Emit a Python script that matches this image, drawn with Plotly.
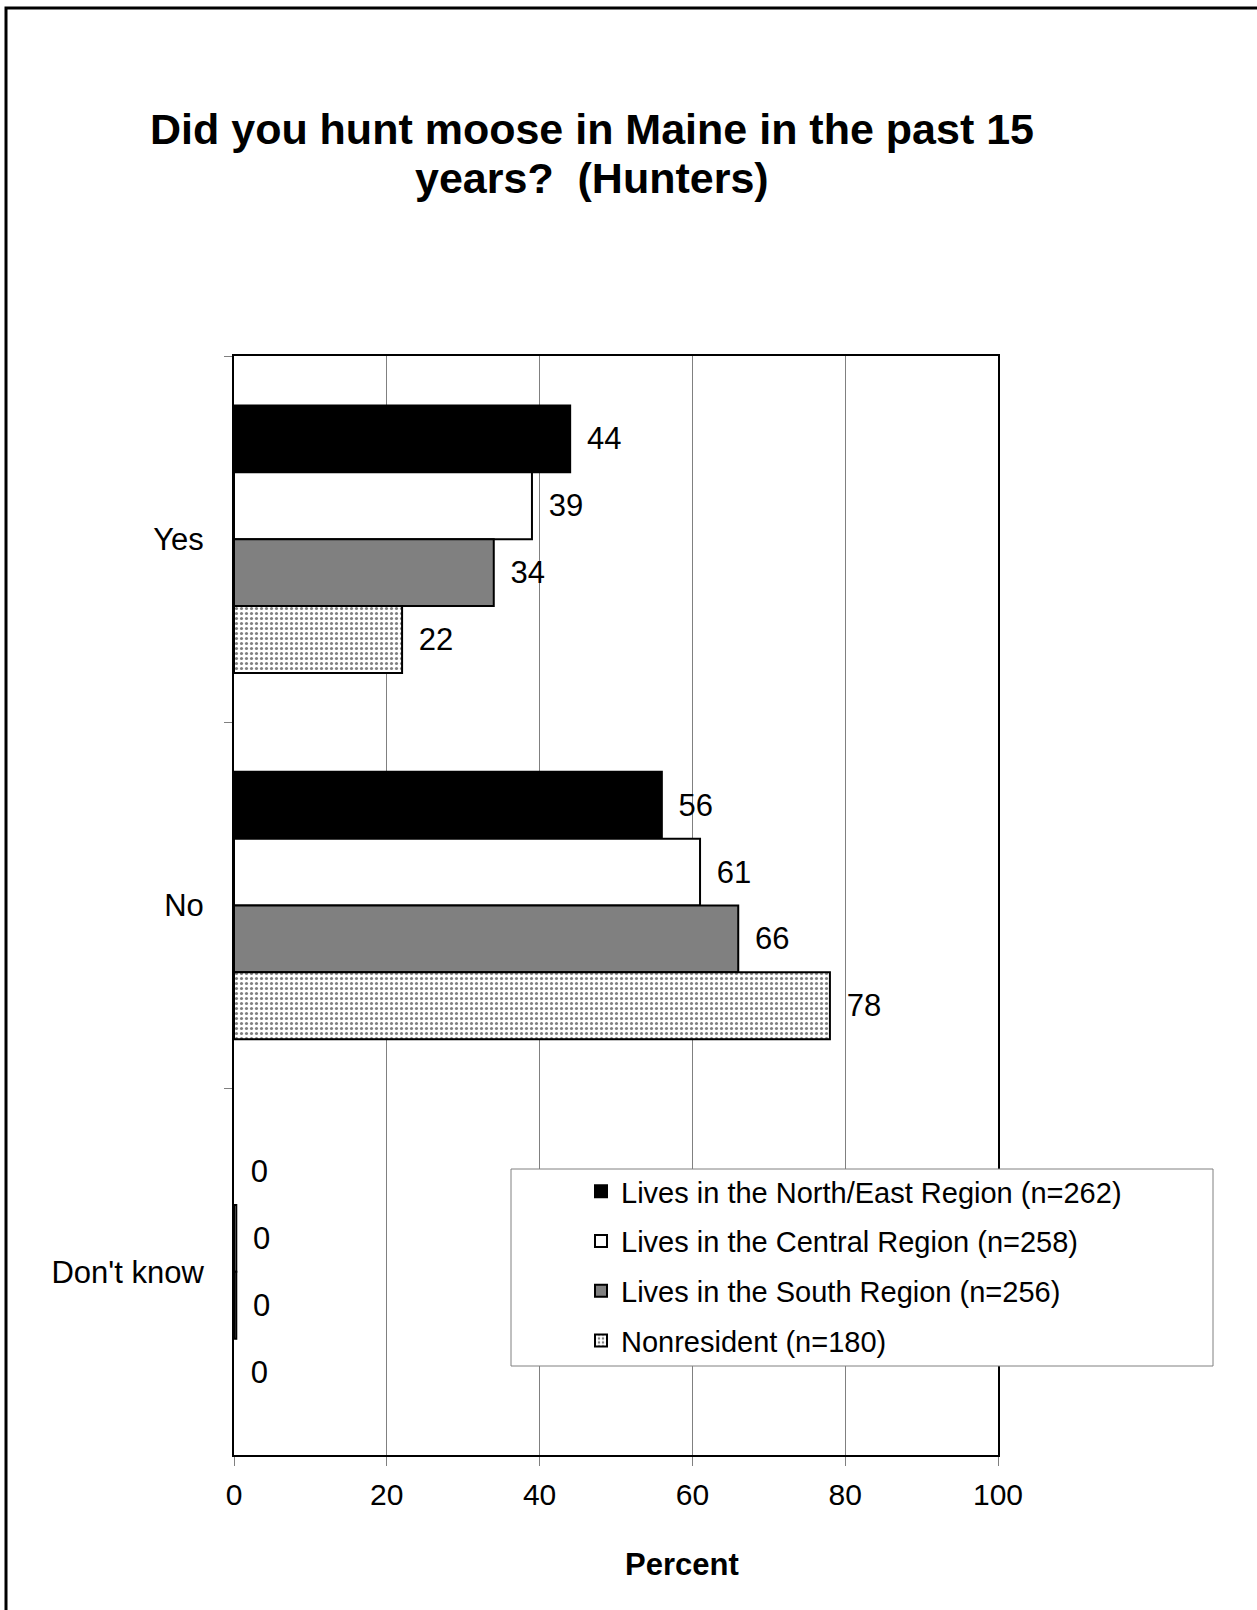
import plotly.graph_objects as go

categories = ["Yes", "No", "Don't know"]
series_names = [
    "Lives in the North/East Region (n=262)",
    "Lives in the Central Region (n=258)",
    "Lives in the South Region (n=256)",
    "Nonresident (n=180)",
]
north_east = [44, 56, 0]
central = [39, 61, 0.3]
south = [34, 66, 0.3]
nonresident = [22, 78, 0]
x_ticks = [0, 20, 40, 60, 80, 100]
title_lines = ["Did you hunt moose in Maine in the past 15", "years?  (Hunters)"]

W, H = 1257, 1610
L, R, T, B = 234, 998, 356, 1455
pw, ph = R - L, B - T

def px(x):
    return (x - L) / pw

def py(y):
    return (B - y) / ph

FONT = "Liberation Sans, Arial, sans-serif"

styles = [
    dict(color="black"),
    dict(color="white"),
    dict(color="#808080"),
    dict(color="white", pattern=dict(shape=".", fgcolor="black", bgcolor="white",
                                     size=5, solidity=0.3, fillmode="overlay")),
]
values = [north_east, central, south, nonresident]

fig = go.Figure()
for i, (name, vals, st) in enumerate(zip(series_names, values, styles)):
    marker = dict(line=dict(color="black", width=[2 if v > 0 else 0 for v in vals]))
    marker.update(st)
    fig.add_trace(go.Bar(
        y=categories, x=vals, name=name, orientation="h",
        marker=marker, legendgroup=f"g{i}",
        texttemplate="\u00a0\u2006%{x:.0f}", textposition="outside",
        textfont=dict(size=31, color="black", family=FONT),
        constraintext="none", cliponaxis=False,
    ))

fig.update_layout(
    width=W, height=H,
    margin=dict(l=L, r=W - R, t=T, b=H - B, pad=0),
    paper_bgcolor="white", plot_bgcolor="white",
    font=dict(family=FONT, size=30, color="black"),
    barmode="group", bargap=0.27, bargroupgap=0,
    showlegend=True,
    legend=dict(
        x=px(581), xanchor="left", y=py(1166), yanchor="top",
        bgcolor="rgba(0,0,0,0)", borderwidth=0,
        font=dict(size=29, family=FONT, color="black"),
        tracegroupgap=9, traceorder="grouped",
    ),
    xaxis=dict(
        range=[0, 100], tickvals=x_ticks, ticks="outside", ticklen=9,
        tickcolor="#808080", tickwidth=1, showgrid=True, gridcolor="#808080",
        gridwidth=1, showline=True, linecolor="black", linewidth=2, mirror=True,
        zeroline=False, tickfont=dict(size=30), ticklabelstandoff=3,
    ),
    yaxis=dict(
        categoryorder="array", categoryarray=categories, autorange="reversed",
        tickson="boundaries", ticks="outside", ticklen=8, tickcolor="#808080",
        tickwidth=1, showgrid=False, showline=True, linecolor="black",
        linewidth=2, mirror=True, tickfont=dict(size=31), ticklabelstandoff=22,
    ),
)

# legend box
fig.add_shape(type="rect", xref="paper", yref="paper",
              x0=px(511), x1=px(1213), y0=py(1366), y1=py(1169),
              line=dict(color="#808080", width=1), fillcolor="white", layer="above")
# outer frame
fig.add_shape(type="rect", xref="paper", yref="paper",
              x0=px(6), x1=px(1300), y0=py(1700), y1=py(8),
              line=dict(color="black", width=3), fillcolor="rgba(0,0,0,0)", layer="above")

for line, yc in zip(title_lines, [129, 178]):
    fig.add_annotation(
        text=line, xref="paper", yref="paper", x=px(592), y=py(yc),
        xanchor="center", yanchor="middle", showarrow=False, align="center",
        font=dict(size=43, family=FONT, color="black", weight="bold"),
    )
fig.add_annotation(
    text="<b>Percent</b>", xref="paper", yref="paper", x=px(682), y=py(1564),
    xanchor="center", yanchor="middle", showarrow=False,
    font=dict(size=31, family=FONT, color="black"),
)

fig.write_html("out.html", config={"displayModeBar": False},
               post_script="document.body.style.margin='0';")
